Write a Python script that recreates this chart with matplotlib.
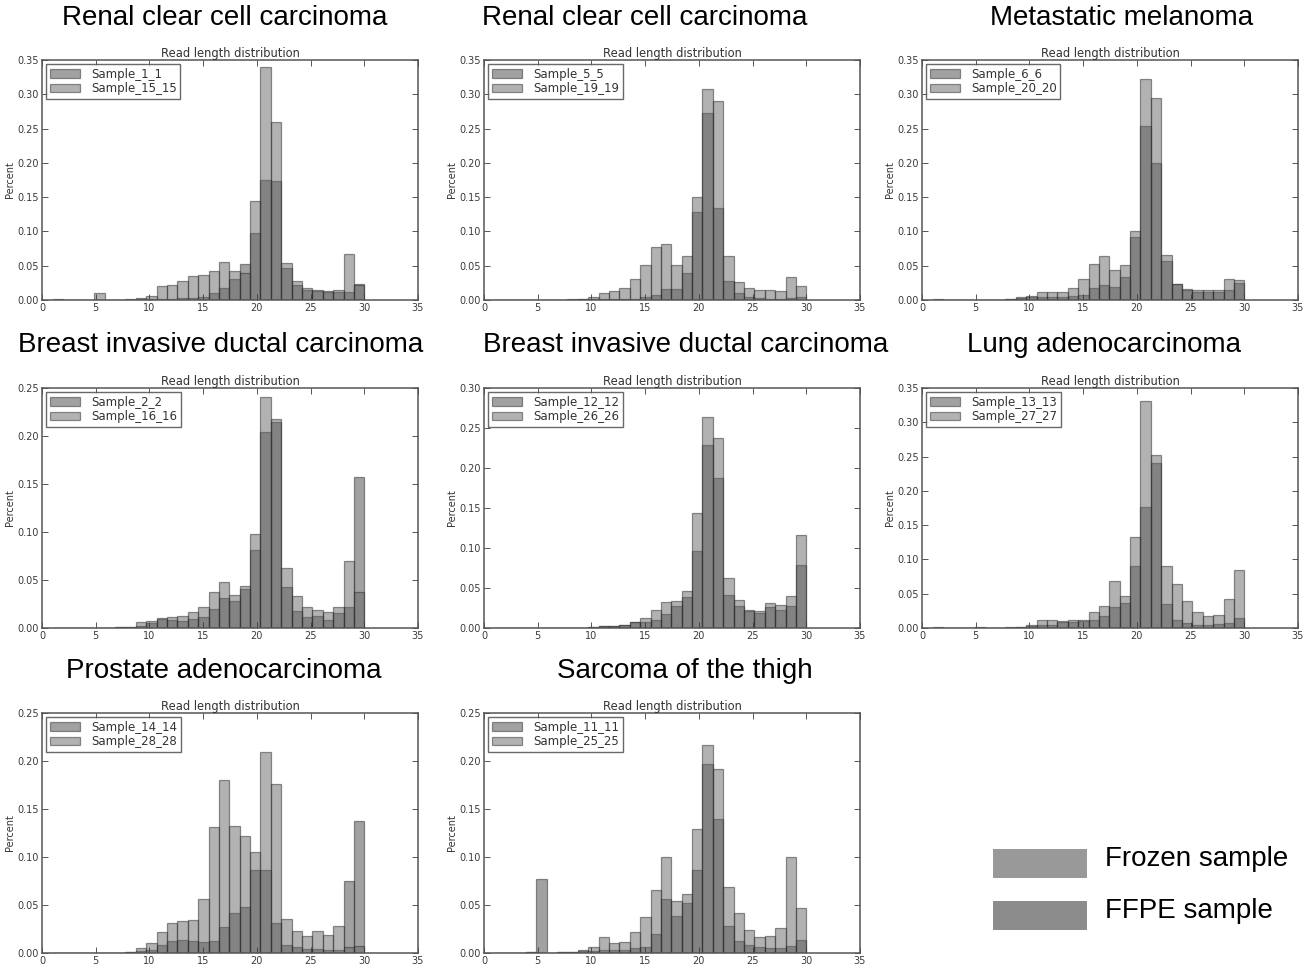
import numpy as np
import matplotlib.pyplot as plt
from matplotlib.patches import Rectangle

# read lengths 1..30, one value per length (fraction of reads)
lengths = np.arange(1, 31)

titles = ["Renal clear cell carcinoma", "Renal clear cell carcinoma", "Metastatic melanoma",
          "Breast invasive ductal carcinoma", "Breast invasive ductal carcinoma", "Lung adenocarcinoma",
          "Prostate adenocarcinoma", "Sarcoma of the thigh"]
names_a = ["Sample_1_1", "Sample_5_5", "Sample_6_6", "Sample_2_2",
           "Sample_12_12", "Sample_13_13", "Sample_14_14", "Sample_11_11"]
names_b = ["Sample_15_15", "Sample_19_19", "Sample_20_20", "Sample_16_16",
           "Sample_26_26", "Sample_27_27", "Sample_28_28", "Sample_25_25"]
ymax = [0.35, 0.35, 0.35, 0.25, 0.30, 0.35, 0.25, 0.25]

#        1       2  3  4  5      6       7       8       9      10     11     12     13     14     15     16     17     18     19     20     21     22     23     24     25     26     27     28     29     30
a1 = [0.0005, 0, 0, 0, 0,     0,      0.0003, 0.0005, 0.001, 0.002, 0.002, 0.002, 0.003, 0.003, 0.004, 0.010, 0.018, 0.031, 0.052, 0.097, 0.175, 0.173, 0.047, 0.022, 0.014, 0.013, 0.012, 0.012, 0.012, 0.024]
b1 = [0.001,  0, 0, 0, 0.010, 0,      0.0005, 0.001,  0.003, 0.006, 0.020, 0.022, 0.028, 0.035, 0.036, 0.043, 0.055, 0.043, 0.040, 0.145, 0.340, 0.260, 0.054, 0.027, 0.018, 0.014, 0.013, 0.015, 0.067, 0.022]

a2 = [0.0005, 0, 0, 0, 0,     0,      0,      0.0005, 0.001, 0.001, 0.001, 0.001, 0.001, 0.002, 0.004, 0.008, 0.016, 0.016, 0.039, 0.128, 0.272, 0.134, 0.028, 0.010, 0.005, 0.003, 0.002, 0.002, 0.003, 0.005]
b2 = [0.0005, 0, 0, 0, 0,     0,      0.0005, 0.001,  0.002, 0.005, 0.010, 0.013, 0.018, 0.031, 0.051, 0.078, 0.082, 0.051, 0.064, 0.150, 0.308, 0.290, 0.064, 0.026, 0.018, 0.015, 0.014, 0.013, 0.034, 0.020]

a3 = [0.0005, 0, 0, 0, 0,     0.0003, 0.0005, 0.001,  0.003, 0.004, 0.004, 0.004, 0.005, 0.006, 0.007, 0.017, 0.022, 0.019, 0.033, 0.092, 0.254, 0.200, 0.057, 0.024, 0.015, 0.012, 0.011, 0.011, 0.014, 0.025]
b3 = [0.001,  0, 0, 0, 0,     0.0005, 0.0005, 0.001,  0.004, 0.006, 0.011, 0.012, 0.012, 0.017, 0.030, 0.052, 0.064, 0.044, 0.051, 0.100, 0.323, 0.294, 0.065, 0.023, 0.016, 0.015, 0.014, 0.014, 0.030, 0.029]

a4 = [0,      0, 0, 0, 0,     0.0005, 0.001,  0.001,  0.002, 0.005, 0.009, 0.008, 0.007, 0.009, 0.011, 0.020, 0.031, 0.028, 0.041, 0.081, 0.204, 0.215, 0.043, 0.018, 0.011, 0.013, 0.008, 0.016, 0.022, 0.157]
b4 = [0,      0, 0, 0, 0,     0.0005, 0.001,  0.0015, 0.006, 0.007, 0.010, 0.011, 0.012, 0.017, 0.022, 0.038, 0.048, 0.034, 0.044, 0.098, 0.241, 0.218, 0.063, 0.033, 0.022, 0.019, 0.017, 0.022, 0.070, 0.037]

a5 = [0,      0, 0, 0, 0,     0,      0,      0,      0.0005, 0.001, 0.002, 0.002, 0.004, 0.007, 0.008, 0.010, 0.017, 0.028, 0.039, 0.096, 0.229, 0.188, 0.041, 0.027, 0.021, 0.019, 0.026, 0.022, 0.028, 0.079]
b5 = [0,      0, 0, 0, 0,     0,      0,      0,      0.0005, 0.001, 0.002, 0.003, 0.004, 0.007, 0.012, 0.022, 0.033, 0.034, 0.046, 0.144, 0.264, 0.237, 0.063, 0.035, 0.022, 0.021, 0.031, 0.029, 0.040, 0.116]

a6 = [0.0005, 0, 0, 0, 0.0005, 0,     0.0003, 0.0005, 0.002, 0.003, 0.004, 0.005, 0.009, 0.009, 0.010, 0.012, 0.018, 0.030, 0.036, 0.090, 0.177, 0.240, 0.035, 0.011, 0.007, 0.004, 0.004, 0.006, 0.007, 0.015]
b6 = [0.001,  0, 0, 0, 0.001, 0,      0.0005, 0.001,  0.002, 0.004, 0.011, 0.012, 0.010, 0.011, 0.012, 0.023, 0.032, 0.069, 0.046, 0.132, 0.331, 0.252, 0.090, 0.064, 0.039, 0.023, 0.018, 0.019, 0.042, 0.085]

a7 = [0,      0, 0, 0, 0,     0,      0.0005, 0.001,  0.002, 0.003, 0.008, 0.013, 0.014, 0.012, 0.011, 0.012, 0.027, 0.042, 0.048, 0.086, 0.086, 0.031, 0.008, 0.006, 0.004, 0.004, 0.003, 0.003, 0.075, 0.138]
b7 = [0,      0, 0, 0, 0,     0,      0.0005, 0.001,  0.005, 0.010, 0.022, 0.031, 0.033, 0.034, 0.056, 0.131, 0.180, 0.132, 0.122, 0.105, 0.209, 0.176, 0.035, 0.023, 0.018, 0.023, 0.019, 0.028, 0.006, 0.007]

a8 = [0.0005, 0, 0, 0.001, 0.077, 0.0005, 0.001, 0.001, 0.002, 0.002, 0.003, 0.003, 0.003, 0.005, 0.006, 0.020, 0.056, 0.039, 0.052, 0.086, 0.197, 0.140, 0.028, 0.013, 0.008, 0.006, 0.005, 0.005, 0.007, 0.014]
b8 = [0.0005, 0, 0, 0.001, 0.0005, 0.0005, 0.001, 0.001, 0.003, 0.006, 0.017, 0.010, 0.011, 0.022, 0.037, 0.066, 0.100, 0.054, 0.061, 0.129, 0.217, 0.192, 0.069, 0.042, 0.024, 0.017, 0.018, 0.026, 0.100, 0.047]

series_a = [a1, a2, a3, a4, a5, a6, a7, a8]
series_b = [b1, b2, b3, b4, b5, b6, b7, b8]

W, H = 1308, 969
fig = plt.figure(figsize=(W / 100, H / 100), dpi=100)

col_left = [42, 484, 922]
row_top = [60, 388, 713]
ax_w, ax_h = 376, 240
# big title centres (pixels)
title_pos = [(225, 18), (645, 18), (1122, 18),
             (221, 345), (686, 345), (1104, 345),
             (224, 671), (685, 671)]

for i in range(8):
    r, c = divmod(i, 3)
    left = col_left[c] / W
    bottom = 1 - (row_top[r] + ax_h) / H
    ax = fig.add_axes([left, bottom, ax_w / W, ax_h / H])
    ax.hist(lengths, bins=30, range=(1, 30), weights=series_a[i], color='#444444',
            alpha=0.5, edgecolor='#2a2a2a', linewidth=0.9, label=names_a[i])
    ax.hist(lengths, bins=30, range=(1, 30), weights=series_b[i], color='#666666',
            alpha=0.5, edgecolor='#2a2a2a', linewidth=0.9, label=names_b[i])
    ax.set_xlim(0, 35)
    ax.set_ylim(0, ymax[i])
    ax.set_xticks(np.arange(0, 36, 5))
    ax.set_yticks(np.arange(0, ymax[i] + 0.001, 0.05))
    ax.yaxis.set_major_formatter(plt.FormatStrFormatter('%.2f'))
    ax.tick_params(direction='in', top=True, right=True, labelsize=7, colors='#3a3a3a',
                   length=4, width=0.6, pad=2)
    for s in ax.spines.values():
        s.set_color('#555555')
        s.set_linewidth(1.1)
    ax.set_title("Read length distribution", fontsize=8.3, color='#333333', pad=2)
    ax.set_ylabel("Percent", fontsize=7, color='#333333', labelpad=2)
    leg = ax.legend(loc='upper left', fontsize=8.5, fancybox=False, handlelength=2.6,
                    borderaxespad=0.35, borderpad=0.3, labelspacing=0.15, handletextpad=0.9)
    leg.get_frame().set_edgecolor('#444444')
    leg.get_frame().set_linewidth(1.0)
    for t in leg.get_texts():
        t.set_color('#333333')
    tx, ty = title_pos[i]
    fig.text(tx / W, 1 - ty / H, titles[i], fontsize=20, family='Liberation Sans',
             ha='center', va='center')

# legend box at bottom right
lax = fig.add_axes([0, 0, 1, 1])
lax.set_xlim(0, W)
lax.set_ylim(H, 0)
lax.axis('off')
key_labels = ["Frozen sample", "FFPE sample"]
key_colors = ['#999999', '#8c8c8c']
key_y = [849, 901]
for lab, col, y in zip(key_labels, key_colors, key_y):
    lax.add_patch(Rectangle((993, y), 94, 29, facecolor=col, edgecolor='none'))
    lax.text(1105, y + 10, lab, fontsize=20, family='Liberation Sans', va='center', ha='left')

fig.savefig("out.png", dpi=100)
